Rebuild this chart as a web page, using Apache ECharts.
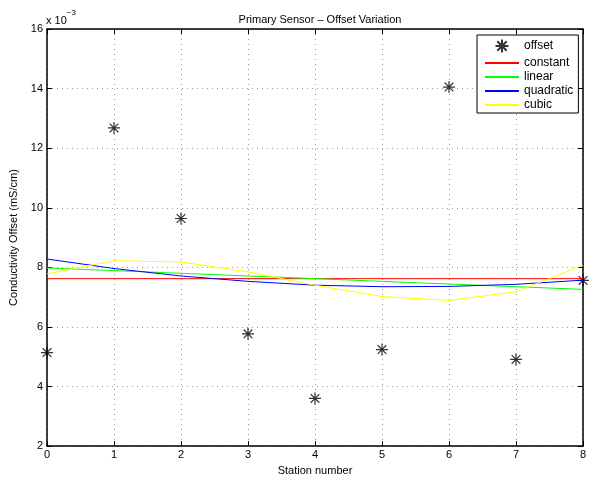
<!DOCTYPE html>
<html>
<head>
<meta charset="utf-8">
<script src="https://cdn.jsdelivr.net/npm/echarts@6/dist/echarts.min.js"></script>
<style>html,body{margin:0;padding:0;background:#fff}#c{width:608px;height:481px}</style>
</head>
<body>
<div id="c"></div>
<script>
// values in units of 1e-3 mS/cm
const stations = [0, 1, 2, 3, 4, 5, 6, 7, 8];
const offsetVals = [5.14, 12.68, 9.64, 5.77, 3.60, 5.24, 14.05, 4.91, 7.56];
const constantVals = [7.62, 7.62, 7.62, 7.62, 7.62, 7.62, 7.62, 7.62, 7.62];
const linearVals = [7.98, 7.89, 7.80, 7.71, 7.62, 7.53, 7.44, 7.35, 7.26];
const quadraticVals = [8.28, 7.96, 7.71, 7.53, 7.40, 7.35, 7.36, 7.43, 7.57];
const cubicVals = [7.78, 8.22, 8.18, 7.85, 7.40, 7.02, 6.89, 7.18, 8.07];
const yTicks = [2, 4, 6, 8, 10, 12, 14, 16];
const xTicks = [0, 1, 2, 3, 4, 5, 6, 7, 8];
const legendNames = ['offset', 'constant', 'linear', 'quadratic', 'cubic'];

const pairs = v => stations.map((s, i) => [s, v[i]]);
const FONT = 'Liberation Sans';
const star = 'path://M0,-5L0,5M-5,0L5,0M-3.6,-3.6L3.6,3.6M-3.6,3.6L3.6,-3.6';

const grid = { left: 47, right: 25, top: 29, bottom: 29 };
const axisCommon = {
  type: 'value',
  axisLine: { show: true, onZero: false, lineStyle: { color: '#000', width: 1.5 } },
  axisTick: { show: true, inside: true, length: 5, lineStyle: { color: '#000' } },
  splitLine: { show: false }
};
const gridLine = { show: true, lineStyle: { color: '#9a9a9a', type: [1, 4], width: 1 } };

const lineSeries = (name, data, color) => ({
  name, type: 'line', data: pairs(data), symbol: 'none',
  lineStyle: { color, width: 1 }, itemStyle: { color },
  emphasis: { disabled: true }, silent: true, z: 3
});

const chart = echarts.init(document.getElementById('c'), null, { renderer: 'canvas' });
chart.setOption({
  animation: false,
  backgroundColor: '#fff',
  textStyle: { fontFamily: FONT },
  title: {
    text: 'Primary Sensor \u2013 Offset Variation',
    left: 315, top: 9, textAlign: 'center',
    textStyle: { fontSize: 11, fontWeight: 'normal', color: '#000', fontFamily: FONT }
  },
  grid,
  legend: {
    orient: 'vertical', left: 477, top: 35,
    itemWidth: 34, itemHeight: 13, itemGap: 2,
    padding: [2, 5, 2, 7],
    borderColor: '#000', borderWidth: 1, backgroundColor: '#fff',
    textStyle: { fontSize: 12, color: '#000', fontFamily: FONT },
    data: legendNames.map((n, i) => i === 0 ? { name: n } : {
      name: n,
      itemStyle: { color: 'rgba(0,0,0,0)', borderColor: 'rgba(0,0,0,0)', borderWidth: 0 }
    }),
    selectedMode: false, z: 10
  },
  xAxis: [
    Object.assign({}, axisCommon, {
      min: 0, max: 8, interval: 1, position: 'bottom',
      name: 'Station number', nameLocation: 'middle', nameGap: 16,
      nameTextStyle: { fontSize: 11, color: '#000', fontFamily: FONT },
      axisLabel: { fontSize: 11, color: '#000', margin: 3, fontFamily: FONT,
        formatter: v => xTicks.includes(v) ? String(v) : '' },
      splitLine: gridLine
    }),
    Object.assign({}, axisCommon, {
      min: 0, max: 8, interval: 1, position: 'top', axisLabel: { show: false }
    })
  ],
  yAxis: [
    Object.assign({}, axisCommon, {
      min: 2, max: 16, interval: 2, position: 'left',
      name: 'Conductivity Offset (mS/cm)', nameLocation: 'middle', nameGap: 21,
      nameTextStyle: { fontSize: 11, color: '#000', fontFamily: FONT },
      axisLabel: { fontSize: 11, color: '#000', margin: 4, fontFamily: FONT,
        formatter: v => yTicks.includes(v) ? String(v) : '' },
      splitLine: gridLine
    }),
    Object.assign({}, axisCommon, {
      min: 2, max: 16, interval: 2, position: 'right', axisLabel: { show: false }
    })
  ],
  graphic: [{
    type: 'text', left: 46, top: 9, z: 10,
    style: {
      text: '{a|x 10}{b|\u22123}',
      rich: {
        a: { fontSize: 11, fontFamily: FONT, fill: '#000', verticalAlign: 'bottom', padding: [6, 0, 0, 0] },
        b: { fontSize: 8, fontFamily: FONT, fill: '#000', verticalAlign: 'top' }
      }
    }
  }],
  series: [
    {
      name: 'offset', type: 'scatter', data: pairs(offsetVals),
      symbol: star, symbolSize: 12,
      itemStyle: { color: 'none', borderColor: '#000', borderWidth: 1.2 },
      emphasis: { disabled: true }, silent: true, z: 2
    },
    lineSeries('constant', constantVals, '#ff0000'),
    lineSeries('linear', linearVals, '#00ff00'),
    lineSeries('quadratic', quadraticVals, '#0000ff'),
    lineSeries('cubic', cubicVals, '#ffff00')
  ]
});
</script>
</body>
</html>
